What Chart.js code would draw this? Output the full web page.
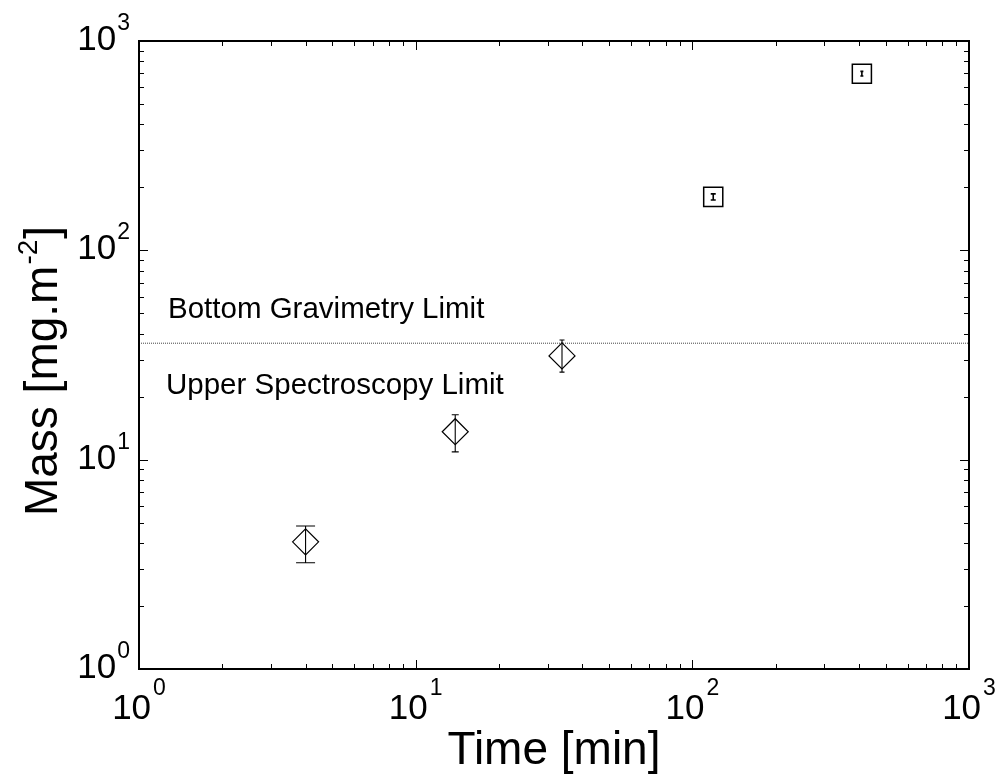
<!DOCTYPE html>
<html>
<head>
<meta charset="utf-8">
<script src="https://cdn.jsdelivr.net/npm/chart.js@4/dist/chart.umd.min.js"></script>
<style>
  html, body { margin: 0; padding: 0; background: #fff; }
  canvas { display: block; }
</style>
</head>
<body>
<canvas id="massChart" width="999" height="777"></canvas>
<script>
// ---- data ----
const diamondTime = [4.0, 13.9, 33.8];
const diamondMass = [4.05, 13.6, 31.3];
const diamondLow  = [3.22, 10.9, 26.2];
const diamondHigh = [4.82, 16.4, 37.3];

const squareTime = [119, 410];
const squareMass = [180, 698];
const squareLow  = [174, 680];
const squareHigh = [186, 716];

const limitMass = 36;
const axisMin = 1;
const axisMax = 1000;
const decadeExponents = [0, 1, 2, 3];
const minorSteps = [2, 3, 4, 5, 6, 7, 8, 9];

// error bar cap widths (px), per point
const diamondCaps = [19, 7, 5];
const squareCaps = [5, 3];

const FONT = '"Liberation Sans", Arial, Helvetica, sans-serif';

function toPoints(xs, ys) {
    return xs.map((x, i) => ({ x: x, y: ys[i] }));
}

// Error bars drawn on top of the markers
const errorBarPlugin = {
    id: 'errorBars',
    afterDatasetsDraw(chart) {
        const ctx = chart.ctx;
        const xs = chart.scales.x, ys = chart.scales.y;
        const sets = [
            { t: diamondTime, lo: diamondLow, hi: diamondHigh, caps: diamondCaps, w: 1.1 },
            { t: squareTime, lo: squareLow, hi: squareHigh, caps: squareCaps, w: 1.6 }
        ];
        ctx.save();
        ctx.strokeStyle = '#000';
        sets.forEach(s => {
            ctx.lineWidth = s.w;
            s.t.forEach((t, i) => {
                const px = xs.getPixelForValue(t);
                const top = ys.getPixelForValue(s.hi[i]);
                const bot = ys.getPixelForValue(s.lo[i]);
                const c = s.caps[i] / 2;
                ctx.beginPath();
                ctx.moveTo(px, top); ctx.lineTo(px, bot);
                ctx.moveTo(px - c, top); ctx.lineTo(px + c, top);
                ctx.moveTo(px - c, bot); ctx.lineTo(px + c, bot);
                ctx.stroke();
            });
        });
        ctx.restore();
    }
};

// Frame, inward ticks, power-of-ten labels, titles and notes
const framePlugin = {
    id: 'frame',
    afterDraw(chart) {
        const ctx = chart.ctx;
        const a = chart.chartArea;
        const xs = chart.scales.x, ys = chart.scales.y;
        ctx.save();

        // ticks
        ctx.strokeStyle = '#000';
        ctx.lineWidth = 1;
        decadeExponents.forEach(d => {
            const base = Math.pow(10, d);
            [1].concat(minorSteps).forEach(m => {
                const v = m * base;
                if (v > axisMax) return;
                const len = m === 1 ? 9 : 5;
                const px = Math.round(xs.getPixelForValue(v)) + 0.5;
                const py = Math.round(ys.getPixelForValue(v)) + 0.5;
                ctx.beginPath();
                ctx.moveTo(px, a.bottom); ctx.lineTo(px, a.bottom - len);
                ctx.moveTo(px, a.top); ctx.lineTo(px, a.top + len);
                ctx.moveTo(a.left, py); ctx.lineTo(a.left + len, py);
                ctx.moveTo(a.right, py); ctx.lineTo(a.right - len, py);
                ctx.stroke();
            });
        });

        // frame
        ctx.lineWidth = 2;
        ctx.strokeRect(a.left, a.top, a.right - a.left, a.bottom - a.top);

        // tick labels 10^n
        ctx.fillStyle = '#000';
        ctx.textBaseline = 'alphabetic';
        const baseFont = '35px ' + FONT;
        const expFont = '23px ' + FONT;
        decadeExponents.forEach(d => {
            const v = Math.pow(10, d);
            ctx.font = baseFont;
            const bw = ctx.measureText('10').width;
            ctx.font = expFont;
            const ew = ctx.measureText(String(d)).width;

            // x axis
            const px = xs.getPixelForValue(v);
            const x0 = px - (bw + ew + 2) / 2;
            ctx.textAlign = 'left';
            ctx.font = baseFont;
            ctx.fillText('10', x0, a.bottom + 50);
            ctx.font = expFont;
            ctx.fillText(String(d), x0 + bw + 2, a.bottom + 26);

            // y axis
            const py = ys.getPixelForValue(v);
            ctx.textAlign = 'right';
            ctx.font = expFont;
            ctx.fillText(String(d), a.left - 9, py - 11);
            ctx.font = baseFont;
            ctx.fillText('10', a.left - 9 - ew - 1, py + 9);
        });

        // x title
        ctx.font = '46px ' + FONT;
        ctx.textAlign = 'center';
        ctx.fillText('Time [min]', (a.left + a.right) / 2, a.bottom + 95);

        // y title, rotated, with superscript
        ctx.translate(57, 372);
        ctx.rotate(-Math.PI / 2);
        const t1 = 'Mass [mg.m', sup = '-2', t2 = ']';
        ctx.font = '46px ' + FONT;
        const w1 = ctx.measureText(t1).width, w3 = ctx.measureText(t2).width;
        ctx.font = '28px ' + FONT;
        const w2 = ctx.measureText(sup).width;
        let sx = -(w1 + w2 + w3) / 2;
        ctx.textAlign = 'left';
        ctx.font = '46px ' + FONT;
        ctx.fillText(t1, sx, 0);
        ctx.font = '28px ' + FONT;
        ctx.fillText(sup, sx + w1 + 1, -20);
        ctx.font = '46px ' + FONT;
        ctx.fillText(t2, sx + w1 + w2 + 2, 0);
        ctx.setTransform(1, 0, 0, 1, 0, 0);

        // limit notes
        const ly = ys.getPixelForValue(limitMass);
        ctx.font = '29.5px ' + FONT;
        ctx.textAlign = 'left';
        ctx.fillText('Bottom Gravimetry Limit', a.left + 29, ly - 25);
        ctx.fillText('Upper Spectroscopy Limit', a.left + 27, ly + 51);

        ctx.restore();
    }
};

new Chart(document.getElementById('massChart'), {
    type: 'scatter',
    data: {
        datasets: [
            {
                label: 'limit',
                type: 'line',
                data: [{ x: axisMin, y: limitMass }, { x: axisMax, y: limitMass }],
                borderColor: '#444',
                borderWidth: 1,
                borderDash: [1, 1],
                pointRadius: 0,
                fill: false
            },
            {
                label: 'spectroscopy',
                data: toPoints(diamondTime, diamondMass),
                pointStyle: 'rectRot',
                pointRadius: 13,
                borderColor: '#000',
                borderWidth: 1.2,
                backgroundColor: 'rgba(0,0,0,0)'
            },
            {
                label: 'gravimetry',
                data: toPoints(squareTime, squareMass),
                pointStyle: 'rect',
                pointRadius: 13.5,
                borderColor: '#000',
                borderWidth: 1.5,
                backgroundColor: 'rgba(0,0,0,0)'
            }
        ]
    },
    options: {
        responsive: false,
        animation: false,
        devicePixelRatio: 1,
        layout: { padding: { left: 139, right: 30, top: 41, bottom: 108 } },
        plugins: { legend: { display: false }, tooltip: { enabled: false } },
        scales: {
            x: { type: 'logarithmic', min: axisMin, max: axisMax, display: false },
            y: { type: 'logarithmic', min: axisMin, max: axisMax, display: false }
        }
    },
    plugins: [errorBarPlugin, framePlugin]
});
</script>
</body>
</html>
